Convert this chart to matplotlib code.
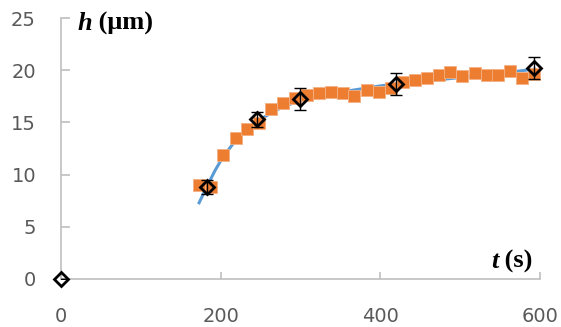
import matplotlib
matplotlib.use("Agg")
import matplotlib.pyplot as plt

# Measured points (orange squares)
t_meas = [173, 188, 203, 219, 233, 248, 263, 278, 293, 308, 323, 338, 353, 367,
          383, 398, 413, 428, 443, 458, 473, 487, 502, 518, 533, 548, 562, 578, 593]
h_meas = [9.0, 8.8, 11.9, 13.5, 14.4, 14.9, 16.25, 16.9, 17.3, 17.6, 17.85, 17.95,
          17.85, 17.55, 18.1, 17.95, 18.25, 18.9, 19.05, 19.3, 19.5, 19.8, 19.4,
          19.7, 19.5, 19.55, 19.9, 19.3, 19.65]

# Fitted curve (blue line)
t_fit = [173, 183, 193, 203, 218, 233, 248, 263, 278, 300, 325, 350, 375, 400,
         450, 500, 550, 593]
h_fit = [7.3, 8.9, 10.4, 11.7, 13.2, 14.3, 15.2, 15.9, 16.5, 17.1, 17.6, 17.9,
         18.2, 18.5, 18.9, 19.3, 19.7, 20.1]

# Reference points with error bars (black diamonds)
t_ref = [0, 183, 246, 299, 420, 593]
h_ref = [0.0, 8.8, 15.3, 17.2, 18.65, 20.2]
h_err = [0.0, 0.7, 0.7, 1.05, 1.05, 1.07]

x_ticks = [0, 200, 400, 600]
y_ticks = [0, 5, 10, 15, 20, 25]

fig = plt.figure(figsize=(5.61, 3.27), dpi=100)
ax = fig.add_axes([61 / 561, 48 / 327, 479 / 561, 261 / 327])

ax.plot(t_fit, h_fit, color="#5B9BD5", lw=2.2, zorder=2)
ax.plot(t_meas, h_meas, ls="none", marker="s", ms=8.3, color="#ED7D31",
        mec="#F4B183", mew=0.6, zorder=3)
ax.errorbar(t_ref, h_ref, yerr=h_err, fmt="none", ecolor="black", elinewidth=1,
            capsize=4, capthick=1, zorder=4)
ax.plot(t_ref, h_ref, ls="none", marker="D", ms=7.3, mfc="none", mec="black",
        mew=2.0, zorder=5, clip_on=False)

ax.set_xlim(0, 600)
ax.set_ylim(0, 25)
ax.set_xticks(x_ticks)
ax.set_yticks(y_ticks)

for side in ("top", "right"):
    ax.spines[side].set_visible(False)
for side in ("left", "bottom"):
    ax.spines[side].set_color("#BFBFBF")
    ax.spines[side].set_linewidth(1.2)

ax.tick_params(axis="y", direction="in", length=6.5, width=1.2, color="#BFBFBF",
               labelsize=14, labelcolor="#595959", pad=18)
ax.tick_params(axis="x", direction="in", length=5, width=1.2, color="#BFBFBF",
               labelsize=14, labelcolor="#595959", pad=20)

# axis titles: bold italic variable + bold unit
hx = fig.text(77 / 561, 1 - 30 / 327, "h", family="Liberation Serif", weight="bold",
              style="italic", fontsize=19, va="baseline")
ax.annotate(" (μm)", xy=(1, 0), xycoords=hx, va="bottom", ha="left",
            family="Liberation Serif", weight="bold", fontsize=19)
tx = fig.text(491 / 561, 1 - 268 / 327, "t", family="Liberation Serif", weight="bold",
              style="italic", fontsize=19, va="baseline")
ax.annotate(" (s)", xy=(1, 0), xycoords=tx, va="bottom", ha="left",
            family="Liberation Serif", weight="bold", fontsize=19)

fig.savefig("out.png", dpi=100)
